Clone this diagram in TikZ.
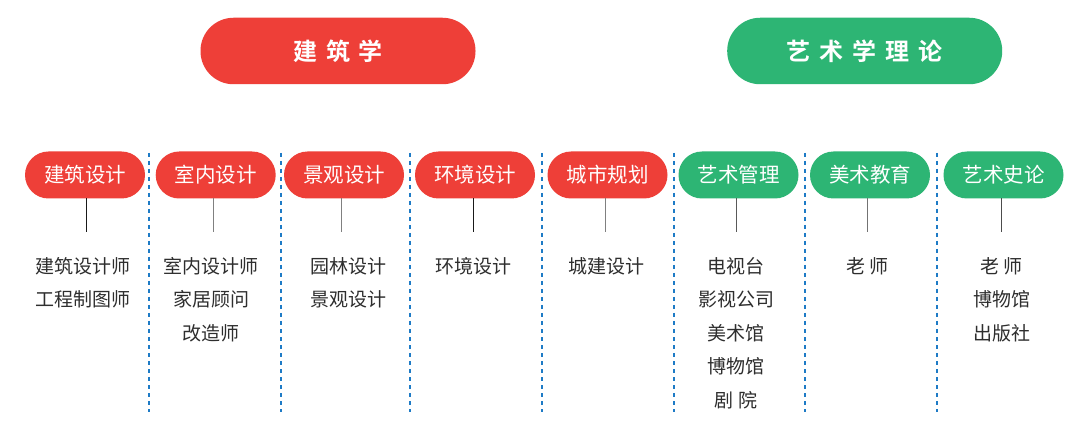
\documentclass[tikz,border=0pt]{standalone}
\usepackage{fontspec}
\setmainfont{Noto Sans CJK SC}
\newfontfamily\cjkbold{Noto Sans CJK SC Bold}
\definecolor{cred}{HTML}{EE3F38}
\definecolor{cgreen}{HTML}{2DB574}
\definecolor{cblue}{HTML}{1E7BC6}
\definecolor{ctext}{HTML}{2E2E2E}
\begin{document}
\begin{tikzpicture}[x=1pt,y=-1pt,
  bigpill/.style={rounded corners=33pt, minimum width=275pt, minimum height=66.5pt, inner sep=0pt, text=white, font=\cjkbold\fontsize{24}{28}\selectfont},
  pill/.style={rounded corners=23.5pt, minimum width=120pt, minimum height=47pt, inner sep=0pt, text=white, font=\fontsize{20.5}{24}\selectfont},
  redfill/.style={fill=cred},
  greenfill/.style={fill=cgreen},
  sep/.style={draw=cblue, line width=1.8pt, dash pattern=on 4pt off 4pt},
  stem/.style={line width=1pt, draw=#1},
  jobs/.style={anchor=north, align=center, text=ctext, inner sep=0pt, font=\fontsize{19}{33.5}\selectfont}
]
\useasboundingbox (0,0) rectangle (1091,427);
\fill[white] (0,0) rectangle (1091,427);

% top categories
\node[bigpill, redfill] (arch) at (338,51) {建\hspace{8.5pt}筑\hspace{8.5pt}学};
\node[bigpill, greenfill] (art) at (864.7,51) {艺\hspace{9pt}术\hspace{9pt}学\hspace{9pt}理\hspace{9pt}论};

% separators
\foreach \x/\n in {149.3/s1, 281/s2, 410.3/s3, 542.3/s4, 673.7/s5, 805/s6, 936.7/s7} {
  \coordinate (\n t) at (\x,153);
  \coordinate (\n b) at (\x,412);
  \draw[sep] (\n t) -- (\n b);
}

% sub categories
\node[pill, redfill] (p1) at (85,175) {建筑设计};
\node[pill, redfill] (p2) at (215.7,175) {室内设计};
\node[pill, redfill] (p3) at (344,175) {景观设计};
\node[pill, redfill] (p4) at (475,175) {环境设计};
\node[pill, redfill] (p5) at (607.5,175) {城市规划};
\node[pill, greenfill] (p6) at (738.5,175) {艺术管理};
\node[pill, greenfill] (p7) at (870,175) {美术教育};
\node[pill, greenfill] (p8) at (1003.5,175) {艺术史论};

% stems
\foreach \n/\x/\c in {p1/86.3/black!90, p2/213.7/black!50, p3/341.7/black!50, p4/473.3/black!90, p5/605.7/black!50, p6/736.7/black!65, p7/867.7/black!55, p8/1001.7/black!70} {
  \coordinate (\n a) at (\x,198.5);
  \coordinate (\n z) at (\x,232);
  \draw[stem=\c] (\n a) -- (\n z);
}

% job lists
\node[jobs] (j1) at (82.5,257) {建筑设计师\\工程制图师};
\node[jobs] (j2) at (211,257) {室内设计师\\家居顾问\\改造师};
\node[jobs] (j3) at (348,257) {园林设计\\景观设计};
\node[jobs] (j4) at (473,257) {环境设计};
\node[jobs] (j5) at (606,257) {城建设计};
\node[jobs] (j6) at (736,257) {电视台\\影视公司\\美术馆\\博物馆\\剧 院};
\node[jobs] (j7) at (867.5,257) {老 师};
\node[jobs] (j8) at (1001.5,257) {老 师\\博物馆\\出版社};
\end{tikzpicture}
\end{document}
